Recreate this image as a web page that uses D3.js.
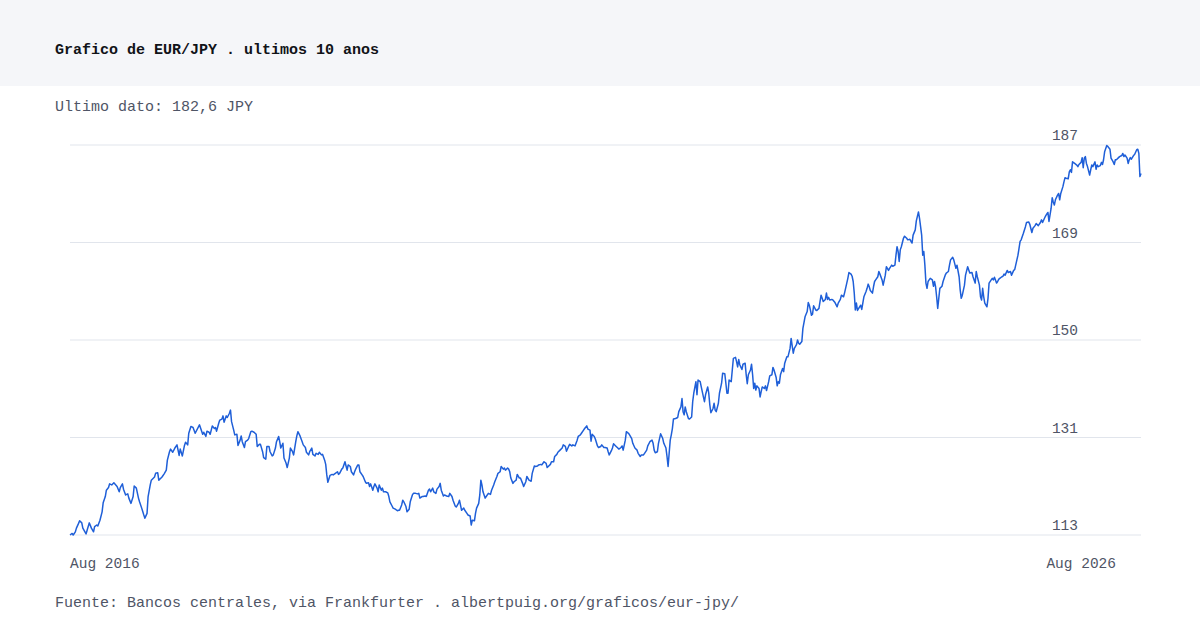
<!DOCTYPE html>
<html>
<head>
<meta charset="utf-8">
<script src="https://cdn.jsdelivr.net/npm/d3@7"></script>
<style>
  body { margin: 0; background: #fff; }
  text { font-family: "Liberation Mono", "DejaVu Sans Mono", monospace; }
</style>
</head>
<body>
<svg id="chart"></svg>
<script>
const titleText = "Grafico de EUR/JPY . ultimos 10 anos";
const subtitleText = "Ultimo dato: 182,6 JPY";
const sourceText = "Fuente: Bancos centrales, via Frankfurter . albertpuig.org/graficos/eur-jpy/";

const startDate = new Date(2016, 7, 5);

const yTicks = [113, 131.5, 150, 168.5, 187];
const yTickLabels = ["113", "131", "150", "169", "187"];

// [years since start, EUR/JPY]
const points = [
  [0.00,113.0],[0.02,113.3],[0.03,113.0],[0.05,113.6],[0.06,114.3],[0.08,115.2],[0.09,115.7],[0.11,115.3],
  [0.12,114.3],[0.15,113.2],[0.16,113.9],[0.18,115.3],[0.20,114.3],[0.22,113.6],[0.23,114.6],[0.25,114.9],
  [0.26,114.7],[0.28,115.8],[0.30,117.4],[0.31,119.1],[0.33,120.3],[0.34,121.5],[0.36,122.0],[0.37,122.7],
  [0.39,122.5],[0.41,122.9],[0.44,122.2],[0.46,121.2],[0.47,122.0],[0.49,122.7],[0.50,121.7],[0.52,120.6],
  [0.54,120.8],[0.55,120.0],[0.57,119.0],[0.59,120.3],[0.60,122.3],[0.62,121.9],[0.64,120.0],[0.65,119.3],
  [0.67,118.1],[0.69,116.8],[0.70,116.2],[0.72,117.1],[0.73,120.3],[0.75,122.5],[0.76,123.4],[0.79,124.0],
  [0.80,124.7],[0.82,124.8],[0.83,123.4],[0.86,124.0],[0.88,124.6],[0.90,125.3],[0.91,127.2],[0.93,128.8],
  [0.94,129.3],[0.96,128.7],[0.98,129.5],[1.00,130.1],[1.02,128.1],[1.03,129.3],[1.05,128.0],[1.07,130.0],
  [1.08,130.6],[1.10,130.1],[1.11,132.3],[1.13,133.6],[1.15,133.4],[1.17,132.3],[1.21,133.9],[1.24,132.1],
  [1.25,132.5],[1.27,131.7],[1.28,132.7],[1.30,132.5],[1.31,132.1],[1.33,133.7],[1.35,133.2],[1.36,133.4],
  [1.37,132.7],[1.39,134.2],[1.40,134.8],[1.42,135.0],[1.43,135.6],[1.44,134.4],[1.46,135.6],[1.47,135.3],
  [1.49,136.1],[1.50,136.7],[1.51,134.5],[1.53,132.9],[1.54,132.0],[1.56,132.1],[1.57,130.0],[1.59,131.0],
  [1.60,131.8],[1.61,130.7],[1.63,129.6],[1.64,130.7],[1.66,131.0],[1.67,131.3],[1.69,132.6],[1.70,132.7],
  [1.72,132.5],[1.74,132.1],[1.75,129.8],[1.77,130.2],[1.78,130.2],[1.80,128.8],[1.81,127.7],[1.83,127.4],
  [1.84,129.8],[1.86,129.8],[1.87,128.8],[1.89,128.0],[1.90,128.2],[1.92,129.5],[1.93,130.7],[1.95,131.7],
  [1.96,130.7],[1.97,129.5],[1.99,130.4],[2.00,127.6],[2.02,126.6],[2.03,125.8],[2.05,127.6],[2.06,129.5],
  [2.08,128.8],[2.09,128.2],[2.11,130.7],[2.12,131.8],[2.13,132.6],[2.15,131.8],[2.17,130.7],[2.18,130.1],
  [2.20,129.6],[2.21,128.7],[2.23,128.2],[2.24,128.8],[2.26,129.5],[2.27,128.3],[2.29,128.0],[2.30,128.5],
  [2.32,128.3],[2.33,128.7],[2.35,128.2],[2.36,128.3],[2.38,127.2],[2.39,126.4],[2.40,124.4],[2.41,123.0],
  [2.43,124.3],[2.45,124.5],[2.46,124.4],[2.48,124.7],[2.50,125.0],[2.51,124.5],[2.52,124.7],[2.54,125.5],
  [2.55,125.7],[2.57,126.9],[2.58,126.1],[2.59,125.3],[2.60,126.3],[2.62,126.0],[2.63,125.0],[2.65,124.4],
  [2.66,125.0],[2.67,125.5],[2.69,126.3],[2.70,126.3],[2.71,125.0],[2.73,124.4],[2.74,124.1],[2.76,123.1],
  [2.77,122.8],[2.79,122.9],[2.80,122.2],[2.81,122.7],[2.83,121.5],[2.84,122.2],[2.85,122.7],[2.87,121.9],
  [2.88,121.2],[2.89,122.5],[2.91,121.5],[2.92,121.9],[2.93,121.2],[2.95,121.2],[2.97,121.0],[2.98,120.3],
  [2.99,119.3],[3.01,118.5],[3.02,118.1],[3.04,117.9],[3.06,117.6],[3.07,117.7],[3.08,117.7],[3.10,118.7],
  [3.11,119.6],[3.12,119.3],[3.14,118.4],[3.15,117.4],[3.17,117.9],[3.18,119.3],[3.20,120.6],[3.21,120.9],
  [3.23,120.9],[3.25,120.8],[3.26,120.9],[3.27,120.0],[3.29,120.3],[3.30,120.3],[3.32,120.4],[3.33,120.3],
  [3.35,121.5],[3.36,121.7],[3.37,121.2],[3.39,121.9],[3.40,121.2],[3.42,120.9],[3.43,121.7],[3.45,122.2],
  [3.46,122.8],[3.47,121.5],[3.49,120.4],[3.50,120.6],[3.52,120.4],[3.54,120.3],[3.55,120.9],[3.57,120.3],
  [3.58,119.6],[3.60,118.5],[3.61,118.3],[3.63,119.0],[3.64,119.6],[3.66,117.7],[3.68,118.1],[3.69,117.7],
  [3.71,117.1],[3.72,116.8],[3.74,116.6],[3.75,114.9],[3.76,115.8],[3.78,115.7],[3.79,117.1],[3.80,118.1],
  [3.82,119.0],[3.83,120.6],[3.84,123.4],[3.85,122.5],[3.86,121.2],[3.88,120.0],[3.89,120.3],[3.91,120.9],
  [3.93,120.7],[3.94,121.5],[3.96,122.5],[3.97,123.1],[3.99,124.1],[4.00,124.7],[4.02,125.0],[4.03,126.0],
  [4.05,125.5],[4.06,125.7],[4.07,125.3],[4.09,125.7],[4.10,125.5],[4.11,125.0],[4.12,123.8],[4.14,122.8],
  [4.15,123.1],[4.17,123.4],[4.18,124.5],[4.20,123.8],[4.21,123.8],[4.23,122.8],[4.24,122.2],[4.26,123.1],
  [4.27,124.1],[4.29,123.4],[4.31,123.2],[4.32,124.7],[4.34,126.1],[4.35,126.0],[4.37,126.1],[4.38,126.3],
  [4.40,126.4],[4.41,126.3],[4.43,126.9],[4.45,126.6],[4.46,125.8],[4.47,126.0],[4.49,126.4],[4.50,126.9],
  [4.52,126.9],[4.53,127.9],[4.55,128.3],[4.56,128.7],[4.58,129.1],[4.60,129.5],[4.61,130.1],[4.63,129.8],
  [4.64,128.9],[4.66,129.8],[4.67,130.2],[4.69,129.9],[4.70,130.1],[4.72,129.9],[4.74,131.0],[4.75,131.7],
  [4.77,132.0],[4.78,132.3],[4.80,132.9],[4.81,133.2],[4.83,133.7],[4.84,133.1],[4.86,132.9],[4.87,130.8],
  [4.88,132.1],[4.90,131.7],[4.91,131.2],[4.93,129.9],[4.94,129.6],[4.96,129.8],[4.97,130.1],[4.99,129.6],
  [5.00,129.6],[5.02,129.5],[5.03,128.8],[5.04,128.2],[5.06,129.0],[5.07,129.5],[5.08,130.3],[5.10,129.9],
  [5.12,129.5],[5.13,129.3],[5.15,129.6],[5.16,129.9],[5.17,129.1],[5.19,131.0],[5.20,132.6],[5.22,132.3],
  [5.23,132.0],[5.25,131.3],[5.26,130.4],[5.28,129.5],[5.30,129.1],[5.31,128.5],[5.33,127.9],[5.34,128.2],
  [5.36,128.2],[5.37,128.5],[5.39,129.1],[5.40,129.9],[5.42,130.7],[5.44,131.0],[5.45,130.4],[5.46,129.1],
  [5.47,128.6],[5.49,128.8],[5.50,130.4],[5.52,132.2],[5.54,131.3],[5.55,130.4],[5.57,129.5],[5.58,127.9],
  [5.59,126.0],[5.60,128.5],[5.61,131.0],[5.62,132.0],[5.63,133.2],[5.64,135.0],[5.66,135.1],[5.68,135.3],
  [5.69,136.4],[5.71,137.3],[5.72,138.9],[5.73,136.4],[5.74,135.8],[5.75,137.3],[5.76,136.4],[5.78,135.1],
  [5.79,135.0],[5.81,135.4],[5.82,138.3],[5.83,139.9],[5.85,142.1],[5.86,139.6],[5.87,142.4],[5.89,142.1],
  [5.90,141.1],[5.92,139.2],[5.93,138.3],[5.94,139.6],[5.96,141.1],[5.97,139.9],[5.98,137.7],[5.99,136.2],
  [6.01,137.0],[6.02,138.0],[6.03,136.7],[6.04,136.4],[6.06,138.0],[6.07,139.9],[6.09,141.8],[6.10,143.7],
  [6.12,143.6],[6.13,141.8],[6.14,139.9],[6.15,139.9],[6.16,142.4],[6.18,142.1],[6.19,144.3],[6.20,146.5],
  [6.22,146.7],[6.23,145.9],[6.24,144.9],[6.25,146.3],[6.26,145.3],[6.28,144.4],[6.29,145.4],[6.31,145.6],
  [6.32,143.4],[6.33,141.7],[6.34,143.4],[6.36,144.3],[6.37,145.4],[6.38,143.4],[6.39,140.8],[6.40,141.8],
  [6.41,140.5],[6.42,141.3],[6.44,140.8],[6.45,139.2],[6.46,140.2],[6.47,141.1],[6.49,140.8],[6.50,141.3],
  [6.51,140.4],[6.53,142.1],[6.54,143.2],[6.56,143.4],[6.57,144.8],[6.58,144.3],[6.60,142.9],[6.61,141.3],
  [6.62,142.1],[6.63,141.8],[6.64,143.4],[6.66,144.6],[6.67,144.0],[6.68,145.6],[6.70,146.8],[6.71,146.8],
  [6.73,148.4],[6.74,150.3],[6.75,148.9],[6.76,147.5],[6.77,148.4],[6.79,149.1],[6.80,150.0],[6.81,149.4],
  [6.82,149.2],[6.84,149.7],[6.85,152.2],[6.87,154.4],[6.89,155.4],[6.90,157.1],[6.91,156.6],[6.92,155.7],
  [6.93,154.7],[6.94,154.9],[6.95,156.5],[6.97,155.7],[6.98,155.6],[7.00,156.0],[7.01,157.3],[7.02,158.5],
  [7.03,157.9],[7.04,157.3],[7.06,157.7],[7.07,158.9],[7.08,157.7],[7.09,158.1],[7.10,157.6],[7.12,157.7],
  [7.13,157.6],[7.15,157.1],[7.17,156.3],[7.18,157.0],[7.20,157.7],[7.21,158.5],[7.23,158.2],[7.24,159.0],
  [7.26,160.8],[7.27,161.7],[7.28,162.8],[7.30,162.5],[7.31,162.1],[7.32,161.1],[7.33,158.9],[7.34,155.7],
  [7.35,157.0],[7.36,155.6],[7.38,156.3],[7.39,156.6],[7.40,155.8],[7.41,157.0],[7.42,158.2],[7.44,159.2],
  [7.45,159.8],[7.46,160.6],[7.47,160.1],[7.48,159.4],[7.50,158.9],[7.51,160.1],[7.52,161.1],[7.53,161.4],
  [7.55,162.0],[7.56,163.0],[7.57,162.5],[7.59,161.4],[7.60,160.4],[7.62,162.3],[7.63,163.9],[7.65,163.2],
  [7.66,163.6],[7.68,164.2],[7.69,164.0],[7.71,164.2],[7.72,166.1],[7.73,167.7],[7.74,166.8],[7.75,164.9],
  [7.76,167.1],[7.77,167.7],[7.79,169.3],[7.80,169.7],[7.82,169.3],[7.83,169.0],[7.85,169.1],[7.87,168.4],
  [7.88,169.9],[7.90,170.9],[7.91,172.6],[7.93,174.3],[7.94,173.1],[7.95,171.5],[7.96,169.9],[7.97,166.1],
  [7.98,166.8],[7.99,164.2],[8.00,160.8],[8.01,159.8],[8.02,161.1],[8.03,161.4],[8.04,161.7],[8.06,161.4],
  [8.07,160.2],[8.08,161.1],[8.09,160.1],[8.10,158.2],[8.11,156.0],[8.12,157.9],[8.13,159.8],[8.15,160.2],
  [8.16,161.1],[8.18,162.3],[8.19,162.7],[8.21,163.0],[8.22,164.2],[8.23,165.2],[8.25,165.7],[8.26,165.2],
  [8.28,163.6],[8.29,164.2],[8.31,162.0],[8.32,159.5],[8.33,157.9],[8.34,158.5],[8.36,160.4],[8.37,162.3],
  [8.39,163.9],[8.40,163.3],[8.41,162.7],[8.43,162.8],[8.44,162.0],[8.46,160.8],[8.47,163.0],[8.48,162.0],
  [8.50,160.4],[8.51,158.2],[8.52,157.6],[8.53,159.8],[8.54,158.2],[8.55,157.0],[8.57,156.3],[8.58,157.9],
  [8.59,160.8],[8.61,161.4],[8.62,161.7],[8.63,161.4],[8.64,161.9],[8.66,160.8],[8.67,161.1],[8.68,161.5],
  [8.69,161.7],[8.71,162.0],[8.72,162.1],[8.73,162.5],[8.74,162.3],[8.76,163.2],[8.77,162.8],[8.79,163.0],
  [8.80,162.3],[8.82,163.2],[8.83,163.4],[8.85,165.2],[8.86,166.1],[8.87,167.4],[8.88,168.7],[8.89,169.0],
  [8.91,170.2],[8.93,171.5],[8.94,172.3],[8.96,172.4],[8.97,172.0],[8.99,170.4],[9.00,171.2],[9.02,171.7],
  [9.03,172.1],[9.05,171.7],[9.07,172.3],[9.08,172.8],[9.09,172.3],[9.11,173.2],[9.12,173.6],[9.13,173.9],
  [9.14,174.2],[9.15,172.5],[9.17,175.0],[9.18,177.0],[9.19,176.2],[9.20,175.6],[9.21,176.6],[9.23,177.5],
  [9.24,177.8],[9.25,176.6],[9.26,177.8],[9.28,179.1],[9.29,180.0],[9.30,180.8],[9.31,180.7],[9.33,180.6],
  [9.34,181.9],[9.35,182.3],[9.36,181.8],[9.37,183.8],[9.39,183.5],[9.41,183.2],[9.42,182.9],[9.43,183.3],
  [9.45,183.7],[9.46,184.6],[9.47,182.7],[9.48,184.5],[9.49,184.8],[9.50,183.5],[9.51,182.9],[9.53,181.3],
  [9.54,182.3],[9.55,183.2],[9.56,182.9],[9.58,183.8],[9.59,182.4],[9.60,183.2],[9.61,182.9],[9.63,183.1],
  [9.64,183.7],[9.65,183.3],[9.66,184.2],[9.67,185.7],[9.69,186.9],[9.70,186.7],[9.72,186.2],[9.73,184.5],
  [9.75,183.8],[9.76,183.3],[9.77,184.2],[9.78,184.2],[9.80,184.6],[9.81,184.8],[9.83,185.0],[9.84,185.4],
  [9.85,184.8],[9.86,185.1],[9.88,184.5],[9.89,183.5],[9.90,184.2],[9.91,184.6],[9.92,184.3],[9.94,185.0],
  [9.95,185.2],[9.97,186.1],[9.98,186.2],[9.99,185.4],[10.00,181.0],[10.01,181.6]
];

const width = 1200, height = 630;
const margin = { top: 145, right: 59, bottom: 95, left: 70 };

const data = points.map(([o, v]) => ({
  date: new Date(startDate.getTime() + o * 365.25 * 864e5),
  value: v
}));

const svg = d3.select("#chart")
  .attr("width", width)
  .attr("height", height)
  .attr("viewBox", `0 0 ${width} ${height}`);

// header band
svg.append("rect")
  .attr("x", 0).attr("y", 0)
  .attr("width", width).attr("height", 86)
  .attr("fill", "#f5f6f9");

svg.append("text")
  .attr("x", 55).attr("y", 54)
  .attr("font-size", 15)
  .attr("font-weight", 700)
  .attr("fill", "#111318")
  .text(titleText);

svg.append("text")
  .attr("x", 55).attr("y", 111)
  .attr("font-size", 15)
  .attr("fill", "#4f5566")
  .text(subtitleText);

const x = d3.scaleTime()
  .domain(d3.extent(data, d => d.date))
  .range([margin.left, width - margin.right]);

const y = d3.scaleLinear()
  .domain([yTicks[0], yTicks[yTicks.length - 1]])
  .range([height - margin.bottom, margin.top]);

// grid + y labels
const grid = svg.append("g").attr("class", "grid");
grid.selectAll("line")
  .data(yTicks)
  .join("line")
    .attr("x1", x.range()[0])
    .attr("x2", x.range()[1])
    .attr("y1", d => y(d))
    .attr("y2", d => y(d))
    .attr("stroke", "#e1e5ec")
    .attr("stroke-width", 1);

grid.selectAll("text")
  .data(yTicks)
  .join("text")
    .attr("x", x.range()[1] - 63)
    .attr("y", d => y(d) - 5)
    .attr("text-anchor", "end")
    .attr("font-size", 14.5)
    .attr("fill", "#4f5566")
    .text((d, i) => yTickLabels[i]);

// x labels: first and last date
const fmt = d3.timeFormat("%b %Y");
const [d0, d1] = x.domain();
svg.append("text")
  .attr("x", x(d0))
  .attr("y", 568)
  .attr("font-size", 14.5)
  .attr("fill", "#4f5566")
  .text(fmt(d0));

svg.append("text")
  .attr("x", x(d1) - 25)
  .attr("y", 568)
  .attr("text-anchor", "end")
  .attr("font-size", 14.5)
  .attr("fill", "#4f5566")
  .text(fmt(d1));

const line = d3.line()
  .x(d => x(d.date))
  .y(d => y(d.value));

svg.append("path")
  .datum(data)
  .attr("d", line)
  .attr("fill", "none")
  .attr("stroke", "#1f5fd8")
  .attr("stroke-width", 1.5)
  .attr("stroke-linejoin", "round");

svg.append("text")
  .attr("x", 55).attr("y", 607)
  .attr("font-size", 15)
  .attr("fill", "#4f5566")
  .text(sourceText);
</script>
</body>
</html>
